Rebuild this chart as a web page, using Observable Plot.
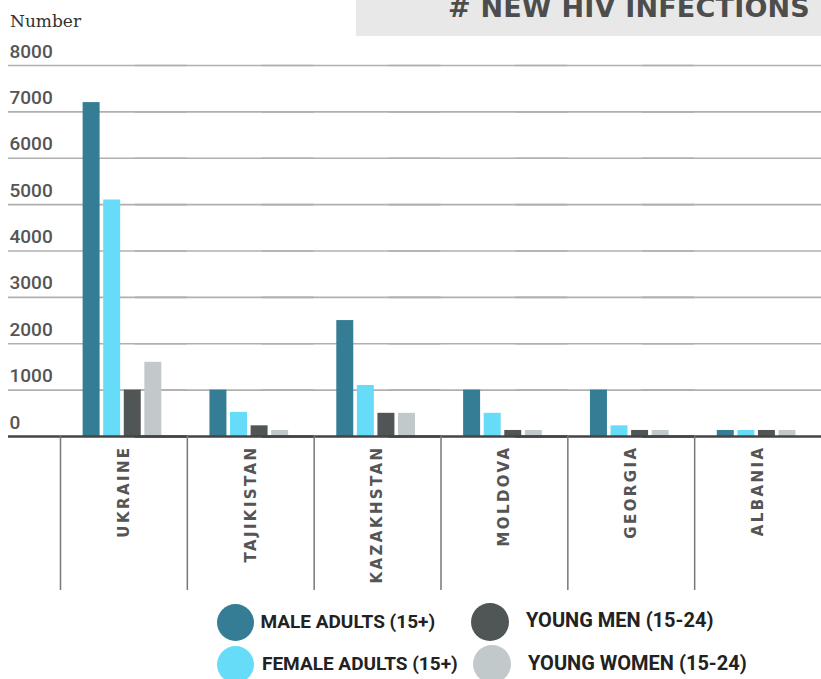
<!DOCTYPE html>
<html>
<head>
<meta charset="utf-8">
<script src="https://cdn.jsdelivr.net/npm/d3@7"></script>
<script src="https://cdn.jsdelivr.net/npm/@observablehq/plot@0.6"></script>
<style>
  html, body { margin: 0; padding: 0; background: #fff; }
  #wrap { position: relative; width: 821px; height: 679px; overflow: hidden; background: #fff; }
  #chart { position: absolute; left: 0; top: 0; }
  #titlebox { position: absolute; left: 356px; top: 0; width: 465px; height: 36px; background: #e8e8e8; }
  #title { position: absolute; left: 448px; top: -6px; font: 700 27px/27px "DejaVu Sans", sans-serif; color: #4d4d4d; letter-spacing: 0.2px; white-space: nowrap; }
  #ylabel { position: absolute; left: 10px; top: 13px; font: 400 17px/17px "DejaVu Serif", serif; color: #333; white-space: nowrap; }
  .lg-dot { position: absolute; border-radius: 50%; }
  .lg-text { position: absolute; font-family: Roboto, sans-serif; font-weight: 700; color: #222; white-space: nowrap; }
  g[aria-label="fx-axis tick label"] text { letter-spacing: 2.4px; }
</style>
</head>
<body>
<div id="wrap">
  <div id="chart"></div>
  <div id="titlebox"></div>
  <div id="title"># NEW HIV INFECTIONS</div>
  <div id="ylabel">Number</div>
  <div id="legend"></div>
</div>
<script>
// ---- data ----
const countries = ["UKRAINE", "TAJIKISTAN", "KAZAKHSTAN", "MOLDOVA", "GEORGIA", "ALBANIA"];
const seriesNames = ["MALE ADULTS (15+)", "FEMALE ADULTS (15+)", "YOUNG MEN (15-24)", "YOUNG WOMEN (15-24)"];
const maleAdults   = [7200, 1000, 2500, 1000, 1000, 130];
const femaleAdults = [5100,  520, 1100,  500,  230, 130];
const youngMen     = [1000,  230,  500,  130,  130, 130];
const youngWomen   = [1600,  130,  500,  130,  130, 130];
const yTicks = [0, 1000, 2000, 3000, 4000, 5000, 6000, 7000, 8000];
const seriesColors = ["#347d94", "#66dcf8", "#505656", "#c2c9cb"];

const valuesBySeries = [maleAdults, femaleAdults, youngMen, youngWomen];
const data = countries.flatMap((c, i) =>
  seriesNames.map((s, j) => ({country: c, series: s, value: valuesBySeries[j][i]}))
);

const W = 821, H = 600, mTop = 65, mBottom = 164, mLeft = 60, mRight = 0;
const band = (W - mLeft - mRight) / countries.length;

const chart = Plot.plot({
  width: W,
  height: H,
  marginTop: mTop,
  marginBottom: mBottom,
  marginLeft: mLeft,
  marginRight: mRight,
  facet: {marginTop: 0, marginBottom: 0, marginLeft: 0, marginRight: 0},
  style: {background: "transparent", fontFamily: "Roboto, sans-serif", overflow: "visible"},
  fx: {domain: countries, padding: 0, round: false, axis: null, label: null},
  x: {domain: seriesNames, paddingInner: 0.175, paddingOuter: 1.17, align: 0.47, round: false, axis: null},
  y: {domain: [0, 8000], axis: null},
  color: {domain: seriesNames, range: seriesColors},
  marks: [
    Plot.ruleY(yTicks.filter(d => d > 0), {stroke: "#b0b0b0", strokeWidth: 1.6, insetLeft: -52}),
    Plot.barY(data, {fx: "country", x: "series", y: "value", fill: "series"}),
    Plot.ruleY([0], {stroke: "#444", strokeWidth: 2.6, insetLeft: -52}),
    Plot.axisY(yTicks, {
      anchor: "left", tickSize: 0, tickPadding: 0, textAnchor: "start",
      dx: -51, dy: -14, fontSize: 19, fontWeight: 500, fill: "#555", label: null,
      tickFormat: d => String(d)
    }),
    Plot.axisFx({
      anchor: "bottom", tickSize: 154, tickPadding: 0, dx: -band / 2,
      tickFormat: () => "", stroke: "#777", strokeWidth: 1.5, label: null
    }),
    Plot.axisFx({
      anchor: "bottom", tickSize: 0, tickPadding: 9, tickRotate: -90, textAnchor: "end",
      fontSize: 15, fontWeight: 700, fontFamily: "DejaVu Sans, sans-serif", fill: "#555", label: null
    })
  ]
});
document.getElementById("chart").appendChild(chart);

// ---- legend (HTML, below the plot) ----
const legendItems = [
  {dot: [235, 622.5, 37], text: [260.5, 628], size: 19},
  {dot: [235, 664.5, 37], text: [262, 670], size: 19},
  {dot: [490, 622, 38], text: [526, 627], size: 20},
  {dot: [492, 664, 38], text: [528, 670], size: 20}
];
const lg = document.getElementById("legend");
seriesNames.forEach((s, i) => {
  const it = legendItems[i];
  const d = document.createElement("div");
  d.className = "lg-dot";
  d.style.left = (it.dot[0] - it.dot[2] / 2) + "px";
  d.style.top = (it.dot[1] - it.dot[2] / 2) + "px";
  d.style.width = it.dot[2] + "px";
  d.style.height = it.dot[2] + "px";
  d.style.background = seriesColors[i];
  lg.appendChild(d);
  const t = document.createElement("div");
  t.className = "lg-text";
  t.textContent = s;
  t.style.fontSize = it.size + "px";
  t.style.lineHeight = it.size + "px";
  t.style.left = it.text[0] + "px";
  t.style.top = (it.text[1] - it.size * 0.843) + "px";
  lg.appendChild(t);
});
</script>
</body>
</html>
